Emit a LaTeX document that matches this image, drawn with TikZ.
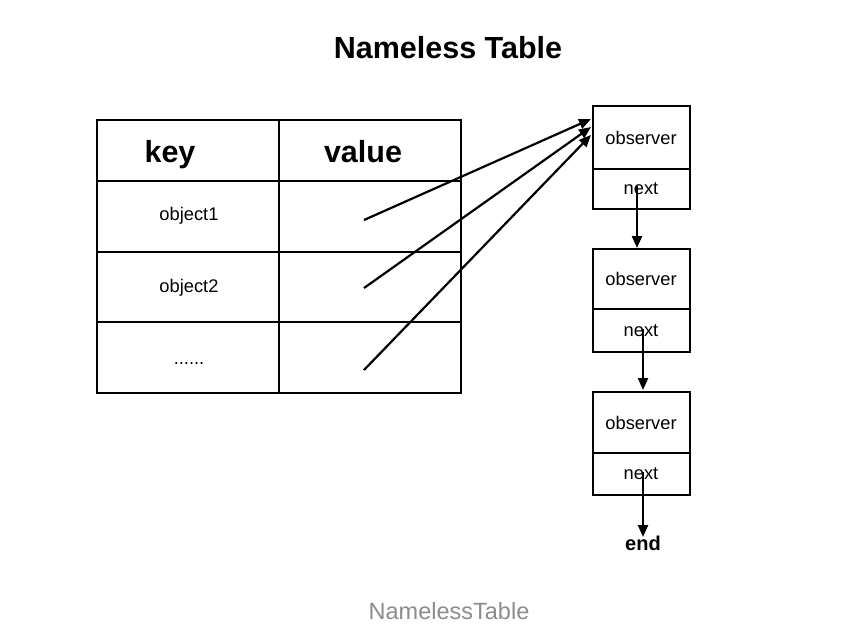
\documentclass[tikz,border=0pt]{standalone}
\usepackage{fontspec}
\setmainfont{Liberation Sans}
\usetikzlibrary{arrows.meta}
\begin{document}
\begin{tikzpicture}[x=1pt,y=-1pt,
  thick line/.style={line width=2.2pt},
  arr/.style={line width=2.2pt,-{Triangle[length=12pt,width=10pt]}},
  small/.style={font=\fontsize{18.3}{21}\selectfont},
  big/.style={font=\bfseries\fontsize{30.5}{34}\selectfont}]
\useasboundingbox (0,0) rectangle (866,638);
% title
\node[big,anchor=base] (title) at (448,58) {Nameless Table};
% table
\draw[thick line] (97,120) rectangle (461,393);
\draw[thick line] (279,120) -- (279,393);
\draw[thick line] (97,181) -- (461,181);
\draw[thick line] (97,252) -- (461,252);
\draw[thick line] (97,322) -- (461,322);
\node[big,anchor=base] (key) at (170,162) {key};
\node[big,anchor=base] (value) at (363,162) {value};
\node[small] (o1) at (189,216) {object1};
\node[small] (o2) at (189,288) {object2};
\node[small,anchor=base] (o3) at (189,364) {......};
\coordinate (v1) at (364,220);
\coordinate (v2) at (364,288);
\coordinate (v3) at (364,370);
% chain boxes
\foreach \t/\d/\b/\n in {106/169/209/1, 249/309/352/2, 392/453/495/3}{
  \draw[thick line] (593,\t) rectangle (690,\b);
  \draw[thick line] (593,\d) -- (690,\d);
  \node[small] (obs\n) at (641,{(\t+\d)/2}) {observer};
  \node[small] (nx\n) at (641,{(\d+\b)/2}) {next};
}
\coordinate (t1) at (591,119);
\coordinate (t2) at (591,127);
\coordinate (t3) at (591,135);
\draw[arr] (v1) -- (t1);
\draw[arr] (v2) -- (t2);
\draw[arr] (v3) -- (t3);
\node[font=\bfseries\fontsize{20}{24}\selectfont] (end) at (643,543) {end};
\draw[arr] (637,186) -- (637,248);
\draw[arr] (643,329) -- (643,390);
\draw[arr] (643,472) -- (643,537);
% caption
\node[font=\fontsize{23.5}{28}\selectfont,text=black!45] (cap) at (449,611) {NamelessTable};
\end{tikzpicture}
\end{document}
